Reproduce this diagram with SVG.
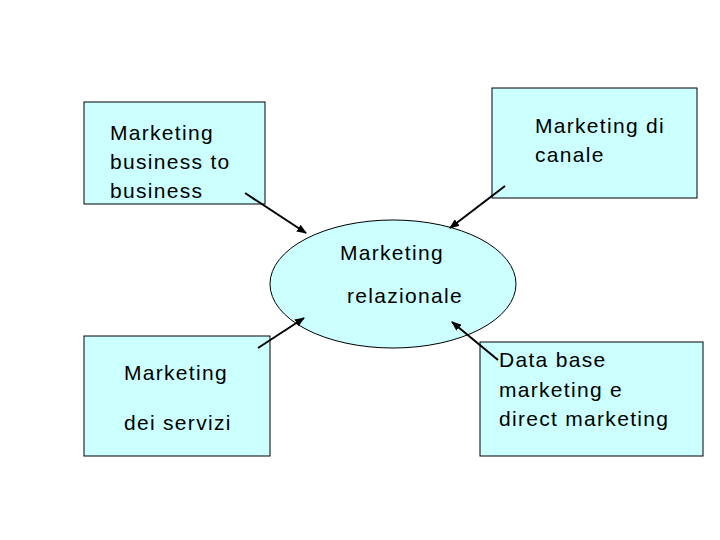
<svg xmlns="http://www.w3.org/2000/svg" width="720" height="540" viewBox="0 0 720 540">
<style>
.b{fill:#ccffff;stroke:#000;stroke-width:1}
.t{font-family:"Liberation Sans",Arial,sans-serif;font-size:21px;fill:#000;letter-spacing:1.3px}
.c{stroke:#000;stroke-width:2;fill:none;marker-end:url(#a)}
</style>
<defs><marker id="a" markerWidth="10" markerHeight="8" refX="9" refY="4" orient="auto" markerUnits="userSpaceOnUse"><path d="M0,0 L10,4 L0,8 Z" fill="#000"/></marker></defs>
<rect width="720" height="540" fill="#fff"/>
<g id="n1"><rect class="b" x="84" y="102" width="181" height="102"/><text class="t" x="110" y="140">Marketing</text><text class="t" x="110" y="169">business to</text><text class="t" x="110" y="198">business</text></g>
<g id="n2"><rect class="b" x="492" y="88" width="205" height="110"/><text class="t" x="535" y="133">Marketing di</text><text class="t" x="535" y="162">canale</text></g>
<g id="n3"><ellipse class="b" cx="393" cy="284" rx="123" ry="64"/><text class="t" x="340" y="260">Marketing</text><text class="t" x="347" y="303">relazionale</text></g>
<g id="n4"><rect class="b" x="84" y="336" width="186" height="120"/><text class="t" x="124" y="380">Marketing</text><text class="t" x="124" y="430">dei servizi</text></g>
<g id="n5"><rect class="b" x="480" y="342" width="223" height="114"/><text class="t" x="499" y="367">Data base</text><text class="t" x="499" y="397">marketing e</text><text class="t" x="499" y="426">direct marketing</text></g>
<g id="connectors">
<line class="c" x1="245" y1="193" x2="306" y2="233"/>
<line class="c" x1="505" y1="186" x2="450" y2="228"/>
<line class="c" x1="258" y1="348" x2="304" y2="318"/>
<line class="c" x1="498" y1="360" x2="452" y2="322"/>
</g>
</svg>
